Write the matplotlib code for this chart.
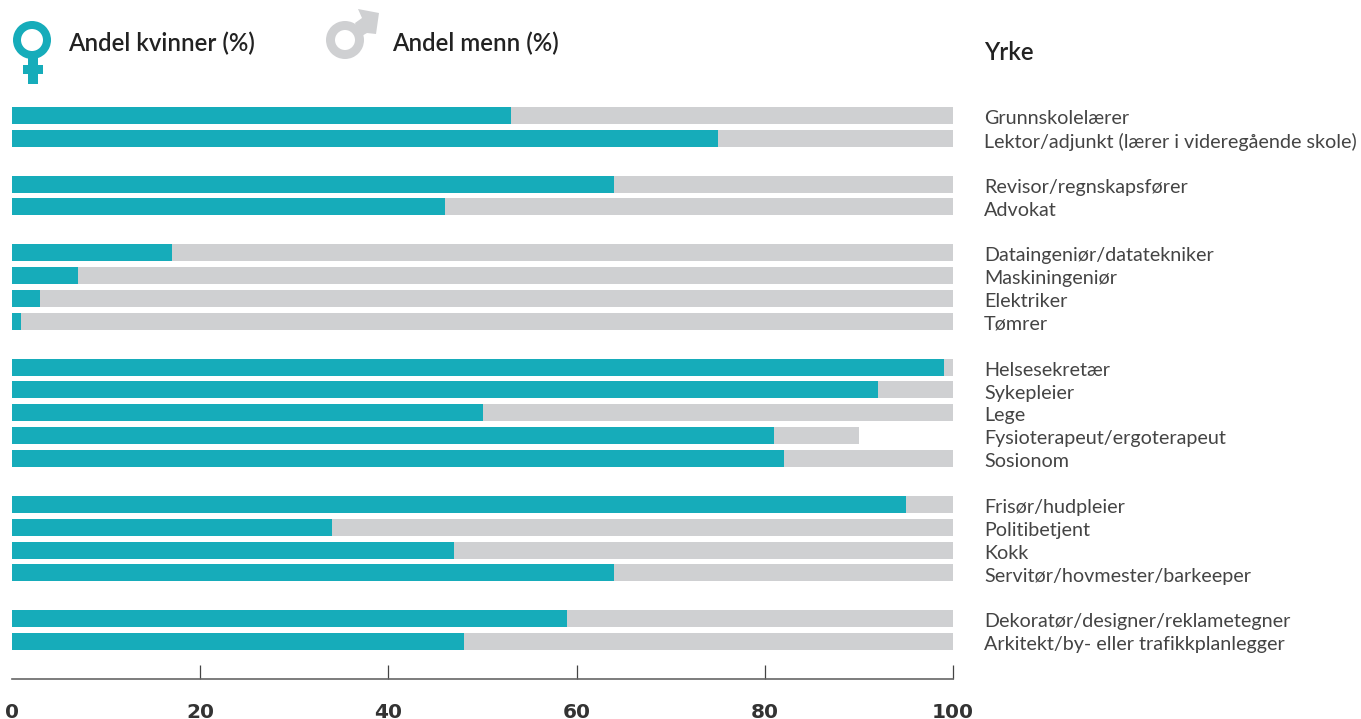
import matplotlib
matplotlib.use("Agg")
import matplotlib.pyplot as plt
from matplotlib.patches import Polygon, Rectangle, Wedge

TEAL = "#16acba"
GREY = "#cfd0d2"

# grupper av yrker, tom rad mellom hver gruppe
groups = [
    ["Grunnskolelærer", "Lektor/adjunkt (lærer i videregående skole)"],
    ["Revisor/regnskapsfører", "Advokat"],
    ["Dataingeniør/datatekniker", "Maskiningeniør", "Elektriker", "Tømrer"],
    ["Helsesekretær", "Sykepleier", "Lege", "Fysioterapeut/ergoterapeut", "Sosionom"],
    ["Frisør/hudpleier", "Politibetjent", "Kokk", "Servitør/hovmester/barkeeper"],
    ["Dekoratør/designer/reklametegner", "Arkitekt/by- eller trafikkplanlegger"],
]
kvinner = [53, 75, 64, 46, 17, 7, 3, 1, 99, 92, 50, 81, 82, 95, 34, 47, 64, 59, 48]
menn = [47, 25, 36, 54, 83, 93, 97, 99, 1, 8, 50, 9, 18, 5, 66, 53, 36, 41, 52]
xticks = [0, 20, 40, 60, 80, 100]

W, H = 1361, 719
fig = plt.figure(figsize=(W / 100, H / 100), dpi=100)

# selve diagrammet, plassert i piksler
left, right, top, bottom = 12, 953, 104, 679
ax = fig.add_axes([left / W, 1 - bottom / H, (right - left) / W, (bottom - top) / H])

yrker = []
rows = []
row = 0
for g in groups:
    for name in g:
        yrker.append(name)
        rows.append(row)
        row += 1
    row += 1

step = 22.87
ax.set_xlim(0, 100)
ax.set_ylim((bottom - 115.5) / step, (top - 115.5) / step)

ax.barh(rows, kvinner, height=17 / step, color=TEAL, linewidth=0)
ax.barh(rows, menn, left=kvinner, height=17 / step, color=GREY, linewidth=0)

for s in ["top", "left", "right"]:
    ax.spines[s].set_visible(False)
ax.spines["bottom"].set_color("#666666")
ax.spines["bottom"].set_linewidth(1.2)

ax.set_xticks(xticks)
ax.set_xticklabels([str(t) for t in xticks], fontfamily="DejaVu Sans", fontsize=14.5, fontweight="bold", color="#333333")
ax.tick_params(axis="x", direction="in", length=10, width=0.9, color="#444444", pad=17)
ax.xaxis.get_major_ticks()[0].tick1line.set_visible(False)

ax.set_yticks([])
# yrkesnavn til hoyre for stolpene, litt under midten av raden
for r, name in zip(rows, yrker):
    ax.text(103.3, r + 0.07, name, fontfamily="Lato", fontsize=14.2, color="#444444", va="center_baseline", clip_on=False)

# overlegg i piksler for symboler og overskrifter
ov = fig.add_axes([0, 0, 1, 1], facecolor="none")
ov.set_xlim(0, W)
ov.set_ylim(H, 0)
ov.axis("off")

ov.add_patch(Wedge((32, 40), 19, 0, 360, width=8, color=TEAL, linewidth=0))
ov.add_patch(Rectangle((28, 57), 10, 27, color=TEAL, linewidth=0))
ov.add_patch(Rectangle((23, 65), 20, 9, color=TEAL, linewidth=0))

ov.add_patch(Wedge((345, 40), 19, 0, 360, width=9, color=GREY, linewidth=0))
ov.add_patch(Polygon([(355, 23), (362, 18), (358, 9), (379, 13), (376, 34), (367, 33), (360, 37)], closed=True, color=GREY, linewidth=0))

ov.text(68, 41, "Andel kvinner (%)", fontfamily="Lato", fontsize=17.3, fontweight="semibold", color="#222222", va="center_baseline")
ov.text(392, 41, "Andel menn (%)", fontfamily="Lato", fontsize=17.3, fontweight="semibold", color="#222222", va="center_baseline")
ov.text(984, 50, "Yrke", fontfamily="Lato", fontsize=17.3, fontweight="semibold", color="#222222", va="center_baseline")

fig.savefig("out.png", dpi=100)
